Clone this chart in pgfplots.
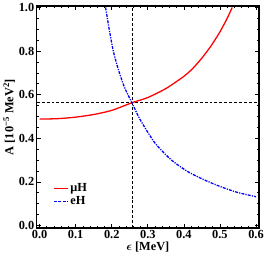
\documentclass[border=0pt]{standalone}
\usepackage{fontspec}
\setmainfont{Liberation Serif}
\usepackage{pgfplots}
\pgfplotsset{compat=1.18}
\begin{document}
\begin{tikzpicture}
\begin{axis}[
  scale only axis, width=225pt, height=225pt,
  xmin=-0.008, xmax=0.608, ymin=-0.012, ymax=1.007,
  xtick={0,0.1,0.2,0.3,0.4,0.5,0.6},
  xticklabels={0.0,0.1,0.2,0.3,0.4,0.5,0.6},
  ytick={0,0.2,0.4,0.6,0.8,1.0},
  yticklabels={0.0,0.2,0.4,0.6,0.8,1.0},
  minor x tick num=4, minor y tick num=3,
  tick align=inside, major tick length=4pt, minor tick length=2pt,
  tick style={black, line width=0.7pt},
  axis line style={line width=1.3pt},
  tick label style={font=\fontsize{12.5}{13}\selectfont\bfseries},
  xticklabel style={yshift=1pt},
  yticklabel style={xshift=1pt},
  label style={font=\fontsize{12.5}{13}\selectfont\bfseries},
  xlabel={{\boldmath$\epsilon$} [MeV]},
  ylabel={A [10\textsuperscript{−5} MeV\textsuperscript{2}]},
  xlabel style={yshift=4pt},
  ylabel style={yshift=-3pt},
  legend style={at={(0.06,0.22)}, anchor=north west, draw=none, fill=none,
    font=\fontsize{12.5}{13}\selectfont\bfseries, row sep=0pt},
  legend cell align=left,
]
\addplot[black, line width=1pt, dash pattern=on 3pt off 2pt, forget plot] coordinates {(0.2565,-0.012) (0.2565,1.007)};
\addplot[black, line width=1pt, dash pattern=on 3pt off 2pt, forget plot] coordinates {(-0.008,0.563) (0.608,0.563)};
\addplot[red, line width=1.3pt, smooth, tension=0.4,
  legend image code/.code={\draw[red, line width=1.3pt] (0pt,0pt) -- (14pt,0pt);}] coordinates {
(0,0.488) (0.05,0.490) (0.1,0.497) (0.15,0.509) (0.2,0.528) (0.256,0.563)
(0.3,0.587) (0.35,0.628) (0.4,0.684) (0.425,0.721) (0.45,0.768) (0.475,0.823)
(0.5,0.888) (0.52,0.950) (0.534,1.0)};
\addlegendentry{μH}
\addplot[color=blue, line width=1.3pt, dash pattern=on 3pt off 1.2pt on 1.2pt off 1.2pt, smooth, tension=0.4,
  legend image code/.code={\draw[blue, line width=1.3pt, dash pattern=on 3pt off 1.5pt] (0pt,0pt) -- (14pt,0pt);}] coordinates {
(0.183,1.0) (0.194,0.89) (0.205,0.795) (0.219,0.712) (0.235,0.635) (0.256,0.563)
(0.28,0.482) (0.32,0.378) (0.365,0.301) (0.411,0.247) (0.457,0.209)
(0.502,0.178) (0.548,0.152) (0.6,0.132)};
\addlegendentry{eH}
\end{axis}
\end{tikzpicture}
\end{document}
